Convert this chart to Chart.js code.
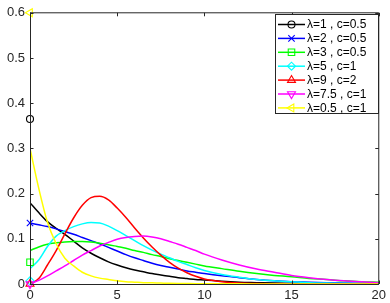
<!DOCTYPE html>
<html>
<head>
<meta charset="utf-8">
<script src="https://cdn.jsdelivr.net/npm/chart.js@4.4.1/dist/chart.umd.min.js"></script>
<style>
html,body{margin:0;padding:0;background:#fff;}
#wrap{width:390px;height:303px;position:relative;}
</style>
</head>
<body>
<div id="wrap"><canvas id="c" width="390" height="303"></canvas></div>
<script>
// ---- data ----
const xs = [0,0.5,1,1.5,2,2.5,3,3.5,4,4.5,5,5.5,6,6.5,7,7.5,8,8.5,9,9.5,10,11,12,13,14,15,16,17,18,19,20];
const sBlack   = [0.180,0.158,0.138,0.123,0.110,0.095,0.080,0.068,0.058,0.049,0.042,0.036,0.031,0.027,0.023,0.020,0.017,0.014,0.012,0.010,0.009,0.006,0.004,0.003,0.002,0.0015,0.001,0.0008,0.0005,0.0003,0.0002];
const sBlue    = [0.135,0.131,0.127,0.122,0.116,0.110,0.103,0.096,0.089,0.081,0.073,0.065,0.058,0.052,0.046,0.041,0.037,0.033,0.029,0.026,0.023,0.018,0.014,0.010,0.007,0.005,0.004,0.003,0.002,0.0015,0.001];
const sGreen   = [0.074,0.082,0.088,0.091,0.093,0.094,0.094,0.093,0.090,0.087,0.083,0.079,0.074,0.070,0.065,0.061,0.056,0.052,0.048,0.044,0.040,0.034,0.028,0.023,0.019,0.016,0.012,0.010,0.007,0.005,0.004];
const sCyan    = [0.034,0.053,0.083,0.106,0.118,0.127,0.133,0.136,0.135,0.128,0.118,0.107,0.096,0.085,0.075,0.066,0.058,0.050,0.043,0.036,0.030,0.021,0.015,0.010,0.007,0.005,0.003,0.002,0.0015,0.001,0.0005];
const sRed     = [0,0.012,0.042,0.074,0.111,0.146,0.174,0.191,0.194,0.186,0.168,0.147,0.124,0.102,0.082,0.064,0.048,0.035,0.025,0.017,0.011,0.005,0.002,0.001,0.0005,0,0,0,0,0,0];
const sMagenta = [0,0.008,0.018,0.029,0.040,0.052,0.064,0.074,0.084,0.092,0.099,0.103,0.105,0.106,0.104,0.100,0.094,0.088,0.081,0.074,0.066,0.053,0.042,0.033,0.026,0.019,0.014,0.010,0.007,0.005,0.003];
const sYellow  = [0.300,0.212,0.137,0.089,0.057,0.040,0.026,0.018,0.013,0.010,0.007,0.005,0.004,0.003,0.0025,0.002,0.0015,0.0012,0.001,0.0008,0.0007,0.0005,0.0003,0.0002,0.0001,0,0,0,0,0,0];
const seriesList = [sBlack,sBlue,sGreen,sCyan,sRed,sMagenta,sYellow];
const labels = ['λ=1 , c=0.5','λ=2 , c=0.5','λ=3 , c=0.5','λ=5 , c=1','λ=9 , c=2','λ=7.5 , c=1','λ=0.5 , c=1'];
const markerX = [0,0,0,0,0,0,0];
const markerY = [0.365,0.135,0.048,0.007,0,0,0.6];
const xTicks = [0,5,10,15,20];
const xTickLabels = ['0','5','10','15','20'];
const yTicks = [0,0.1,0.2,0.3,0.4,0.5,0.6];
const yTickLabels = ['0','0.1','0.2','0.3','0.4','0.5','0.6'];

// ---- styles ----
const colors = ['#000000','#0000ff','#00ff00','#00ffff','#ff0000','#ff00ff','#ffff00'];
const mStyles = [
  {pointStyle:'circle', rotation:0, radius:3.5},
  {pointStyle:'crossRot', rotation:0, radius:4.5},
  {pointStyle:'rect', rotation:0, radius:4.6},
  {pointStyle:'rectRot', rotation:0, radius:4},
  {pointStyle:'triangle', rotation:0, radius:4.6},
  {pointStyle:'triangle', rotation:180, radius:4.6},
  {pointStyle:'triangle', rotation:-90, radius:4.6}
];
const FONT = '"Liberation Sans", Arial, Helvetica, sans-serif';
const AX = '#262626';

const datasets = [];
seriesList.forEach((s, i) => {
  datasets.push({
    label: labels[i],
    data: xs.map((x, k) => ({x: x, y: s[k]})),
    showLine: true,
    borderColor: colors[i],
    backgroundColor: colors[i],
    borderWidth: 1.5,
    pointRadius: 0,
    pointHoverRadius: 0,
    cubicInterpolationMode: 'monotone',
    fill: false,
    order: 20 - i
  });
});
seriesList.forEach((s, i) => {
  datasets.push({
    label: labels[i] + ' marker',
    data: [{x: markerX[i], y: markerY[i]}],
    showLine: false,
    borderColor: colors[i],
    backgroundColor: 'rgba(0,0,0,0)',
    pointStyle: mStyles[i].pointStyle,
    rotation: mStyles[i].rotation,
    pointRadius: mStyles[i].radius,
    pointBorderWidth: 1.1,
    clip: false,
    order: 7 - i
  });
});

function drawMarker(ctx, i, x, y) {
  ctx.save();
  ctx.strokeStyle = colors[i];
  ctx.fillStyle = 'rgba(0,0,0,0)';
  ctx.lineWidth = 1.1;
  Chart.helpers.drawPoint(ctx, {pointStyle: mStyles[i].pointStyle, rotation: mStyles[i].rotation, radius: mStyles[i].radius, borderWidth: 1.1}, x, y);
  ctx.restore();
}

const boxPlugin = {
  id: 'boxAxes',
  afterDatasetsDraw(chart) {
    const ctx = chart.ctx;
    const a = chart.chartArea;
    const xs_ = chart.scales.x, ys_ = chart.scales.y;
    ctx.save();
    ctx.lineWidth = 1;
    // top & right (soft)
    ctx.strokeStyle = AX;
    ctx.beginPath();
    ctx.moveTo(a.left, a.top); ctx.lineTo(a.right, a.top); ctx.lineTo(a.right, a.bottom);
    ctx.stroke();
    // left & bottom (crisp)
    ctx.beginPath();
    ctx.moveTo(Math.round(a.left) + 0.5, a.top); ctx.lineTo(Math.round(a.left) + 0.5, Math.round(a.bottom) + 0.5);
    ctx.lineTo(a.right, Math.round(a.bottom) + 0.5);
    ctx.stroke();
    // ticks
    const tl = 3.5;
    ctx.beginPath();
    xTicks.forEach(v => {
      const px = Math.round(xs_.getPixelForValue(v)) + 0.5;
      ctx.moveTo(px, a.bottom); ctx.lineTo(px, a.bottom - tl);
      ctx.moveTo(px, a.top); ctx.lineTo(px, a.top + tl);
    });
    yTicks.forEach(v => {
      const py = Math.round(ys_.getPixelForValue(v)) + 0.5;
      ctx.moveTo(a.left, py); ctx.lineTo(a.left + tl, py);
      ctx.moveTo(a.right, py); ctx.lineTo(a.right - tl, py);
    });
    ctx.stroke();
    ctx.restore();

    // legend box
    const lx = 275.5, ly = 14.5, lw = 103, lh = 99;
    ctx.save();
    ctx.fillStyle = '#ffffff';
    ctx.fillRect(lx, ly, lw, lh);
    ctx.strokeStyle = AX;
    ctx.lineWidth = 1;
    ctx.strokeRect(lx, ly, lw, lh);
    ctx.font = '12px ' + FONT;
    ctx.textBaseline = 'middle';
    ctx.textAlign = 'left';
    labels.forEach((lab, i) => {
      const y = 24.5 + i * 13.9;
      ctx.strokeStyle = colors[i];
      ctx.lineWidth = 1.5;
      ctx.beginPath(); ctx.moveTo(278, y); ctx.lineTo(305, y); ctx.stroke();
      drawMarker(ctx, i, 291.5, y);
      ctx.fillStyle = '#000000';
      ctx.fillText(lab, 307, y + 0.5);
    });
    ctx.restore();
  }
};

new Chart(document.getElementById('c'), {
  type: 'scatter',
  data: { datasets: datasets },
  options: {
    responsive: false,
    animation: false,
    devicePixelRatio: 1,
    layout: { padding: { left: 0, right: 10, top: 9, bottom: 0 } },
    plugins: { legend: { display: false }, tooltip: { enabled: false } },
    scales: {
      x: {
        type: 'linear', min: 0, max: 20,
        afterFit(s) { s.height = 19; },
        afterBuildTicks(s) { s.ticks = xTicks.map(v => ({value: v})); },
        grid: { display: false, drawTicks: false },
        border: { display: false },
        ticks: {
          padding: 4,
          color: AX,
          font: { family: FONT, size: 13 },
          maxRotation: 0,
          callback: (v) => { const k = xTicks.indexOf(v); return k >= 0 ? xTickLabels[k] : ''; }
        }
      },
      y: {
        type: 'linear', min: 0, max: 0.6,
        afterFit(s) { s.width = 30; },
        afterBuildTicks(s) { s.ticks = yTicks.map(v => ({value: v})); },
        grid: { display: false, drawTicks: false },
        border: { display: false },
        ticks: {
          padding: 5,
          color: AX,
          font: { family: FONT, size: 13 },
          callback: (v) => { const k = yTicks.findIndex(t => Math.abs(t - v) < 1e-9); return k >= 0 ? yTickLabels[k] : ''; }
        }
      }
    }
  },
  plugins: [boxPlugin]
});
</script>
</body>
</html>
